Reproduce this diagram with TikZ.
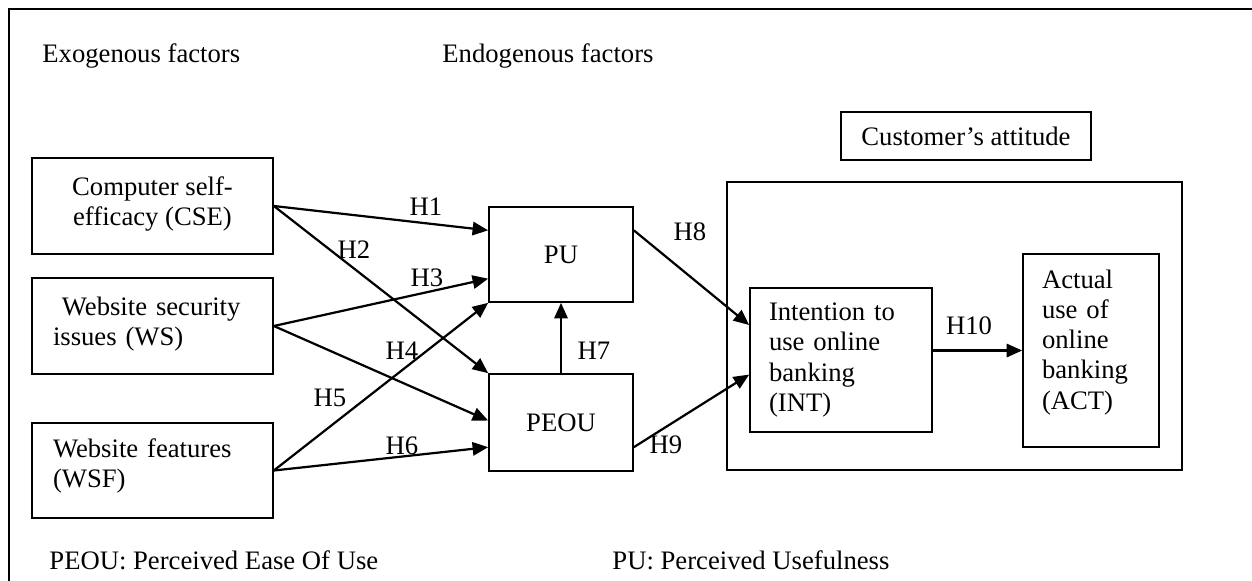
\documentclass[tikz,border=0pt]{standalone}
\usepackage{fontspec}
\setmainfont{Liberation Serif}
\usetikzlibrary{arrows.meta,calc}
\begin{document}
\begin{tikzpicture}[x=0.45pt,y=-0.45pt,
  font=\fontsize{12pt}{13.6pt}\selectfont,
  box/.style={draw,line width=0.75pt,inner sep=0pt},
  arr/.style={line width=1pt,-{Triangle[length=7pt,width=6pt]}},
  hlab/.style={inner sep=0pt},
  plain/.style={inner sep=0pt,anchor=base west}]
\useasboundingbox (0,0) rectangle (1252,581);
% outer frame (only top and left edges visible)
\draw[line width=0.8pt] (9,581) -- (9,9) -- (1252,9);
% headings
\node[plain] (exo) at (42,63) {Exogenous factors};
\node[plain] (endo) at (442,63) {Endogenous factors};
\node[plain] (fpeou) at (49,569) {PEOU: Perceived Ease Of Use};
\node[plain] (fpu) at (612,569) {PU: Perceived Usefulness};
% exogenous boxes
\node[box,minimum width=108.45pt,minimum height=43.2pt,align=center] (cse) at (152.5,206)
  {Computer self-\\efficacy (CSE)\rule[-4.5pt]{0pt}{1pt}};
\node[box,minimum width=108.45pt,minimum height=43.2pt,text width=89.55pt,align=left] (ws) at (152.5,326)
  {\ Website security\\issues (WS)\rule[-4.5pt]{0pt}{1pt}};
\node[box,minimum width=108.45pt,minimum height=42.75pt,text width=89.55pt,align=left] (wsf) at (152.5,470.5)
  {Website features\\(WSF)\rule[-7pt]{0pt}{1pt}};
% endogenous boxes
\node[box,minimum width=64.8pt,minimum height=42.75pt] (pu) at (561,254.5) {PU};
\node[box,minimum width=64.8pt,minimum height=43.65pt] (peou) at (561,422.5) {PEOU};
% customer's attitude
\node[box,minimum width=112.5pt,minimum height=21.6pt] (cat) at (966,136) {Customer’s attitude};
\node[box,minimum width=204.75pt,minimum height=129.6pt] (big) at (954.5,326) {};
\node[box,minimum width=81.9pt,minimum height=64.8pt,text width=64.8pt,align=left] (int) at (841,360)
  {Intention to\\use online\\banking\\(INT)};
\node[box,minimum width=61.2pt,minimum height=86.85pt,text width=44.1pt,align=left] (act) at (1091,350.5)
  {Actual\\use of\\online\\banking\\(ACT)\rule[-10pt]{0pt}{1pt}};
% arrows
\draw[arr] (cse.east) -- ($(pu.north west)!0.25!(pu.south west)$);
\draw[arr] (cse.east) -- (peou.north west);
\draw[arr] (ws.east) -- ($(pu.north west)!0.75!(pu.south west)$);
\draw[arr] (ws.east) -- ($(peou.north west)!0.48!(peou.south west)$);
\draw[arr] (wsf.east) -- (pu.south west);
\draw[arr] (wsf.east) -- ($(peou.north west)!0.75!(peou.south west)$);
\draw[arr] (peou.north) -- (pu.south);
\draw[arr] ($(pu.north east)!0.25!(pu.south east)$) -- ($(int.north west)!0.26!(int.south west)$);
\draw[arr] ($(peou.north east)!0.75!(peou.south east)$) -- ($(int.north west)!0.6!(int.south west)$);
\draw[arr] (act.west -| int.east) -- (act.west);
% labels
\node[hlab] (h1) at (426,207) {H1};
\node[hlab] (h2) at (354,250) {H2};
\node[hlab] (h3) at (427,278) {H3};
\node[hlab] (h4) at (402,351) {H4};
\node[hlab] (h5) at (330,398) {H5};
\node[hlab] (h6) at (402,446) {H6};
\node[hlab] (h7) at (594,351) {H7};
\node[hlab] (h8) at (690,232) {H8};
\node[hlab] (h9) at (666,445) {H9};
\node[hlab] (h10) at (969,326) {H10};
\end{tikzpicture}
\end{document}
